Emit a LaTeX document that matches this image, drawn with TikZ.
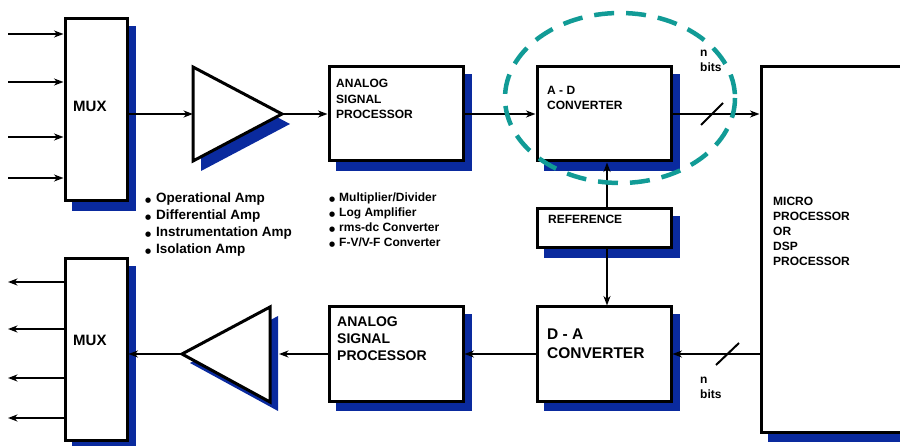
\documentclass[tikz,border=0pt]{standalone}
\usepackage{fontspec}
\setmainfont{Liberation Sans}
\newfontfamily\dotfont{DejaVu Sans}
\usetikzlibrary{arrows.meta,calc,backgrounds}
\definecolor{shadowblue}{HTML}{0A2A9E}
\definecolor{ringteal}{HTML}{119B96}
% left-aligned stack of lines whose baseline is the first line's baseline
\newcommand\txtlines[1]{\vtop{\let\\\cr\halign{##\hfil\cr#1\crcr}}}
% list bullet sitting on the baseline
\newcommand\bitem[1][11pt]{\makebox[#1][l]{{\dotfont\fontsize{7}{7}\selectfont ●}}}
\begin{document}
\begin{tikzpicture}[x=1pt,y=-1pt,
  box/.style={draw, line width=3pt, fill=white, inner sep=0pt,
    minimum width=134pt, minimum height=94pt},
  caption/.style={anchor=base west, inner sep=0pt,
    font=\bfseries\fontsize{12}{15}\selectfont},
  wire/.style={line width=2.3pt, -{Stealth[length=9.5pt,width=7pt,inset=3pt]}},
  amp/.style={draw, line width=3pt, fill=white, line join=miter},
  slash/.style={line width=2pt},
]
\useasboundingbox (0,0) rectangle (900,446);

% blocks
\node[box, minimum width=62pt, minimum height=182pt] (mux1) at (96,110) {};
\node[box, minimum width=62pt, minimum height=181pt] (mux2) at (96,349.5) {};
\node[box] (asp1) at (396,114) {};
\node[box] (adc) at (604,114) {};
\node[box, minimum height=39pt] (ref) at (604,228.5) {};
\node[box] (dac) at (604,354) {};
\node[box] (asp2) at (396,354) {};
\node[box, minimum width=200pt, minimum height=365pt] (mpu) at (861,249.5) {};

% amplifiers
\draw[amp] (193,67) -- (193,161) -- (282,114) -- cycle;
\draw[amp] (182,354) -- (270,307) -- (270,402) -- cycle;
\coordinate (amp1in) at (193,114);
\coordinate (amp1out) at (282,114);
\coordinate (amp2in) at (279,354);
\coordinate (amp2out) at (182,354);

% drop shadows
\begin{scope}[on background layer]
  \foreach \b in {mux1,mux2,asp1,adc,ref,dac,asp2,mpu}
    \fill[shadowblue] ($(\b.north west)+(8.5,8.5)$) rectangle ($(\b.south east)+(7.5,8.5)$);
  \fill[shadowblue] (201,77) -- (201,171) -- (290,124) -- cycle;
  \fill[shadowblue] (190,363) -- (278,316) -- (278,411) -- cycle;
\end{scope}

% block captions
\node[caption, font=\bfseries\fontsize{15}{18}\selectfont] (mux1txt) at (73,112) {MUX};
\node[caption, font=\bfseries\fontsize{15}{18}\selectfont] (mux2txt) at (73,346) {MUX};
\node[caption, font=\bfseries\fontsize{12}{15.3}\selectfont] (asp1txt) at (336,88)
  {\txtlines{ANALOG\\SIGNAL\\PROCESSOR}};
\node[caption, font=\bfseries\fontsize{12}{14.5}\selectfont] (adctxt) at (547,95)
  {\txtlines{A - D\\CONVERTER}};
\node[caption] (reftxt) at (548,224) {REFERENCE};
\node[caption, font=\bfseries\fontsize{12}{14.8}\selectfont] (mputxt) at (773,206)
  {\txtlines{MICRO\\PROCESSOR\\OR\\DSP\\PROCESSOR}};
\node[caption, font=\bfseries\fontsize{14}{17}\selectfont] (asp2txt) at (337,327)
  {\txtlines{ANALOG\\SIGNAL\\PROCESSOR}};
\node[caption, font=\bfseries\fontsize{15.5}{19}\selectfont] (dactxt) at (547,340)
  {\txtlines{D - A\\CONVERTER}};
\node[caption, font=\bfseries\fontsize{12}{14.5}\selectfont] (bits1) at (700,57)
  {\txtlines{n\\bits}};
\node[caption, font=\bfseries\fontsize{12}{14.5}\selectfont] (bits2) at (700,384)
  {\txtlines{n\\bits}};

% function lists
\node[caption, font=\bfseries\fontsize{13.5}{17}\selectfont] (amplist) at (145,203)
  {\txtlines{\bitem Operational Amp\\\bitem Differential Amp\\\bitem Instrumentation Amp\\\bitem Isolation Amp}};
\node[caption, font=\bfseries\fontsize{12}{15}\selectfont] (asplist) at (329,202)
  {\txtlines{\bitem[10pt]Multiplier/Divider\\\bitem[10pt]Log Amplifier\\\bitem[10pt]rms-dc Converter\\\bitem[10pt]F-V/V-F Converter}};

% signal paths
\coordinate (in1) at (8,34);
\coordinate (in2) at (8,82);
\coordinate (in3) at (8,137);
\coordinate (in4) at (8,178);
\foreach \i in {1,...,4}
  \draw[wire] (in\i) -- (in\i -| mux1.west);
\draw[wire] (mux1.east |- amp1in) -- (amp1in);
\draw[wire] (amp1out) -- (asp1.west);
\draw[wire] (asp1.east) -- (adc.west);
\draw[wire] (adc.east) -- (adc.east -| mpu.west);
\draw[wire] ($(ref.north)+(3,0)$) -- ($(adc.south)+(3,0)$);
\draw[wire] ($(ref.south)+(3,0)$) -- ($(dac.north)+(3,0)$);
\draw[wire] (dac.east -| mpu.west) -- (dac.east);
\draw[wire] (dac.west) -- (asp2.east);
\draw[wire] (asp2.west) -- (amp2in);
\draw[wire] (amp2out) -- (amp2out -| mux2.east);
\coordinate (out1) at (8,282);
\coordinate (out2) at (8,329);
\coordinate (out3) at (8,378);
\coordinate (out4) at (8,418);
\foreach \i in {1,...,4}
  \draw[wire] (out\i -| mux2.west) -- (out\i);

% bus width marks
\draw[slash] (701,125) -- (723,103);
\draw[slash] (716,365) -- (739,343);

% highlight ring round the converter
\draw[ringteal, line width=4.5pt, dash pattern=on 20pt off 12pt]
  (620,98) ellipse [x radius=115, y radius=85];
\end{tikzpicture}
\end{document}
